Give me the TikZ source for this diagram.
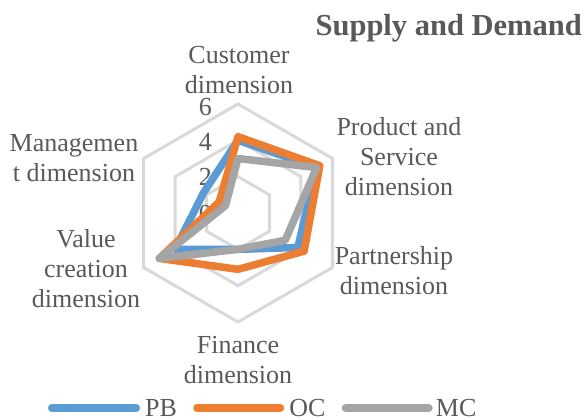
\documentclass[tikz,border=0pt]{standalone}
\usepackage{fontspec}
\setmainfont{Liberation Serif}
\usepackage{xcolor}
\usetikzlibrary{positioning,calc}
\definecolor{pbblue}{HTML}{5B9BD5}
\definecolor{ocorange}{HTML}{ED7D31}
\definecolor{mcgrey}{HTML}{A5A5A5}
\definecolor{gridgrey}{HTML}{D9D9D9}
\definecolor{textgrey}{HTML}{595959}
\newcommand{\unitr}{18.17}

\begin{document}
\begin{tikzpicture}[x=1pt, y=1pt,
        gridline/.style={draw=gridgrey, line width=3pt, line join=miter},
        series/.style={line width=7.5pt, line join=round, line cap=round},
        axislabel/.style={text=textgrey, font=\fontsize{26}{30}\selectfont, align=center},
        ticklabel/.style={text=textgrey, font=\fontsize{26}{30}\selectfont, anchor=east, inner sep=0pt},
        keyline/.style={line width=8pt, line cap=round},
        keytext/.style={text=textgrey, font=\fontsize{26}{30}\selectfont, inner sep=0pt}
    ]
        \useasboundingbox (-238,-206) rectangle (347,213);

        \foreach \lvl in {2,4,6}
            \draw [gridline] (90:\lvl*\unitr) -- (30:\lvl*\unitr) -- (-30:\lvl*\unitr)
                -- (-90:\lvl*\unitr) -- (-150:\lvl*\unitr) -- (150:\lvl*\unitr) -- cycle;

        \node [ticklabel] (tick0) at (-26,-1) {0};
        \node [ticklabel] (tick2) at (-26,36) {2};
        \node [ticklabel] (tick4) at (-26,71) {4};
        \node [ticklabel] (tick6) at (-26,106) {6};

        \draw [series, pbblue] (90:4*\unitr) -- (30:5*\unitr) -- (-30:3.8*\unitr)
            -- (-90:2*\unitr) -- (-150:4*\unitr) -- (150:2.2*\unitr) -- cycle;
        \draw [series, ocorange] (90:4.2*\unitr) -- (30:5.2*\unitr) -- (-30:4.2*\unitr)
            -- (-90:3.1*\unitr) -- (-150:5*\unitr) -- (150:1.2*\unitr) -- cycle;
        \draw [series, mcgrey] (90:3*\unitr) -- (30:5*\unitr) -- (-30:3*\unitr)
            -- (-90:2*\unitr) -- (-150:5*\unitr) -- (150:0.8*\unitr) -- cycle;

        \node [axislabel] (cust) at (1,143) {Customer\\dimension};
        \node [axislabel] (prod) at (161,56) {Product and\\Service\\dimension};
        \node [axislabel] (part) at (156,-58) {Partnership\\dimension};
        \node [axislabel] (fin) at (0,-147) {Finance\\dimension};
        \node [axislabel] (val) at (-152,-56) {Value\\creation\\dimension};
        \node [axislabel] (mgmt) at (-164,55) {Managemen\\t dimension};

        \node [text=textgrey, font=\fontsize{30.5}{36}\selectfont\bfseries, anchor=east, inner sep=0pt] (title) at (344,185) {Supply and Demand};

        \coordinate (pba) at (-186,-195);
        \coordinate [right=84pt of pba] (pbb);
        \node [keytext, right=9pt of pbb] (pbkey) {PB};
        \coordinate [right=20pt of pbkey] (oca);
        \coordinate [right=83pt of oca] (ocb);
        \node [keytext, right=9pt of ocb] (ockey) {OC};
        \coordinate [right=20pt of ockey] (mca);
        \coordinate [right=83pt of mca] (mcb);
        \node [keytext, right=7pt of mcb] (mckey) {MC};

        \draw [keyline, pbblue] (pba) -- (pbb);
        \draw [keyline, ocorange] (oca) -- (ocb);
        \draw [keyline, mcgrey] (mca) -- (mcb);
    \end{tikzpicture}
\end{document}
